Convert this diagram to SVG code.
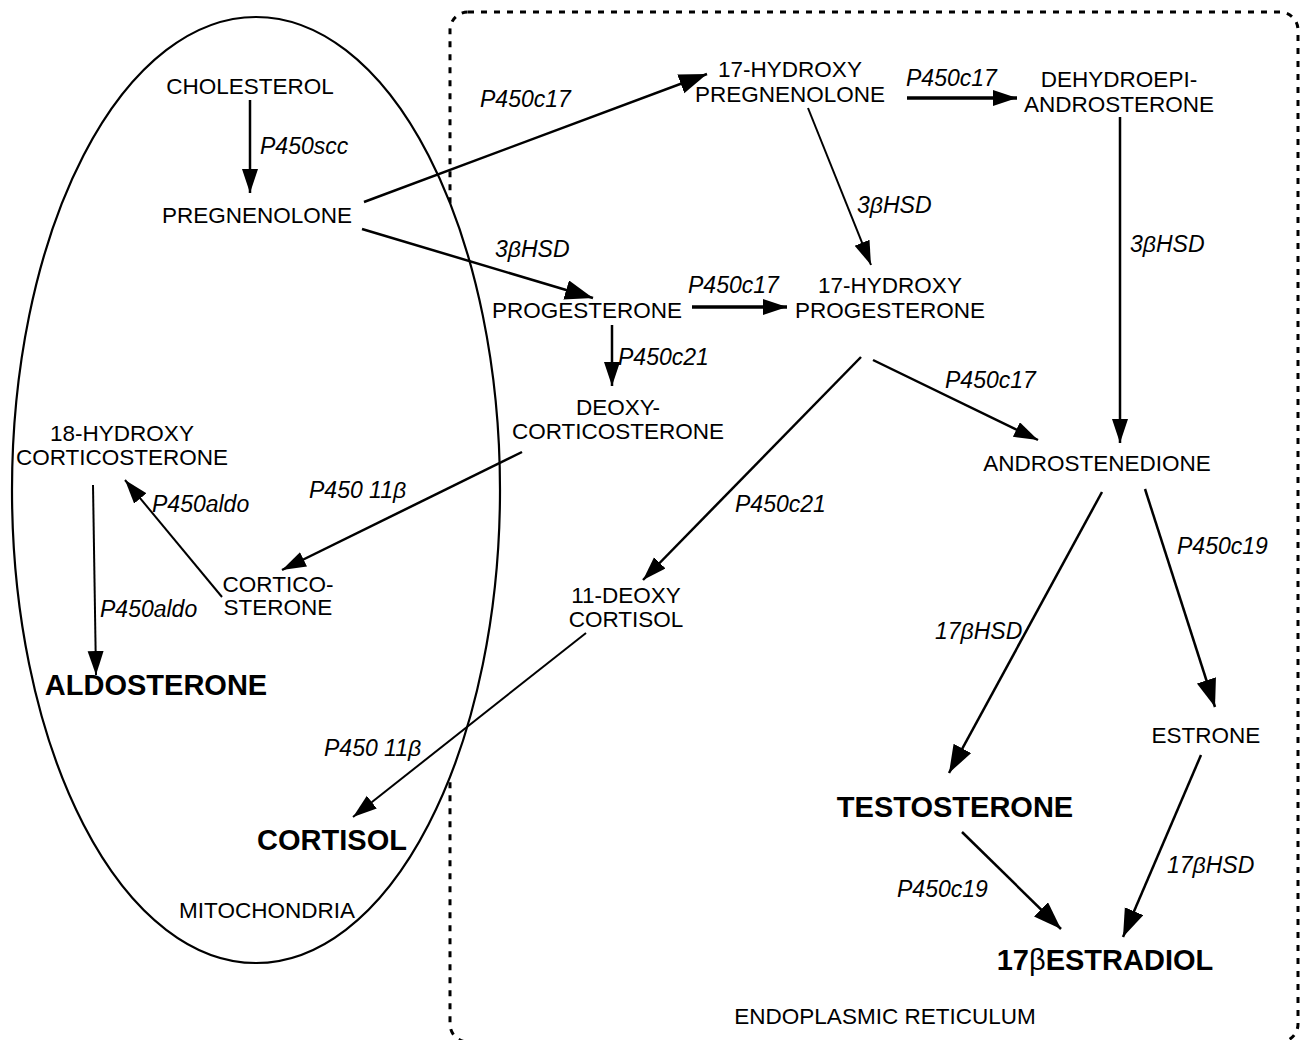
<svg xmlns="http://www.w3.org/2000/svg" width="1306" height="1040" viewBox="0 0 1306 1040">
<style>
text{font-family:"Liberation Sans",Arial,sans-serif;font-size:22.5px;fill:#000}
.n{text-anchor:middle}
.b{font-weight:bold;font-size:29px}
.e{font-style:italic;font-size:23px}
.c{stroke:#000;stroke-width:2.5;fill:none}
.t{stroke-width:2}
.k{stroke-width:3.5}
</style>
<defs>
<marker id="ah" markerUnits="userSpaceOnUse" markerWidth="26" markerHeight="18" refX="24" refY="8" orient="auto"><path d="M0,0 L24,8 L0,16 z" fill="#000"/></marker>
<marker id="ahL" markerUnits="userSpaceOnUse" markerWidth="30" markerHeight="22" refX="28" refY="10" orient="auto"><path d="M0,0 L28,10 L0,20 z" fill="#000"/></marker>
</defs>
<rect id="er" x="450" y="12" width="848" height="1030" rx="18" fill="none" stroke="#000" stroke-width="3" stroke-dasharray="6 7"/>
<ellipse id="mito" cx="256" cy="490" rx="244" ry="473" fill="#fff" stroke="#000" stroke-width="2.2"/>
<g id="connectors">
<line class="c" x1="250" y1="100" x2="250" y2="193" marker-end="url(#ah)"/>
<line class="c" x1="364" y1="202" x2="707" y2="74" marker-end="url(#ahL)"/>
<line class="c" x1="362" y1="229" x2="593" y2="298" marker-end="url(#ahL)"/>
<line class="c k" x1="907" y1="98" x2="1017" y2="98" marker-end="url(#ah)"/>
<line class="c t" x1="808" y1="108" x2="871" y2="265" marker-end="url(#ah)"/>
<line class="c" x1="1120" y1="117" x2="1120" y2="443" marker-end="url(#ah)"/>
<line class="c k" x1="692" y1="307" x2="787" y2="307" marker-end="url(#ah)"/>
<line class="c" x1="612" y1="325" x2="612" y2="386" marker-end="url(#ah)"/>
<line class="c" x1="522" y1="452" x2="282" y2="570" marker-end="url(#ah)"/>
<line class="c" x1="861" y1="357" x2="643" y2="580" marker-end="url(#ah)"/>
<line class="c" x1="873" y1="360" x2="1038" y2="440" marker-end="url(#ah)"/>
<line class="c t" x1="586" y1="633" x2="353" y2="817" marker-end="url(#ah)"/>
<line class="c t" x1="93" y1="485" x2="96" y2="675" marker-end="url(#ah)"/>
<line class="c t" x1="222" y1="597" x2="125" y2="480" marker-end="url(#ah)"/>
<line class="c" x1="1102" y1="492" x2="949" y2="773" marker-end="url(#ahL)"/>
<line class="c" x1="1145" y1="489" x2="1215" y2="707" marker-end="url(#ahL)"/>
<line class="c" x1="962" y1="832" x2="1061" y2="929" marker-end="url(#ahL)"/>
<line class="c" x1="1201" y1="755" x2="1123" y2="937" marker-end="url(#ahL)"/>
</g>
<g id="labels">
<text class="e" x="260" y="154">P450scc</text>
<text class="e" x="480" y="107">P450c17</text>
<text class="e" x="495" y="257">3βHSD</text>
<text class="e" x="906" y="86">P450c17</text>
<text class="e" x="857" y="213">3βHSD</text>
<text class="e" x="1130" y="252">3βHSD</text>
<text class="e" x="688" y="293">P450c17</text>
<text class="e" x="618" y="365">P450c21</text>
<text class="e" x="945" y="388">P450c17</text>
<text class="e" x="309" y="498">P450 11β</text>
<text class="e" x="152" y="512">P450aldo</text>
<text class="e" x="735" y="512">P450c21</text>
<text class="e" x="100" y="617">P450aldo</text>
<text class="e" x="935" y="639">17βHSD</text>
<text class="e" x="1177" y="554">P450c19</text>
<text class="e" x="324" y="756">P450 11β</text>
<text class="e" x="897" y="897">P450c19</text>
<text class="e" x="1167" y="873">17βHSD</text>
</g>
<g id="cholesterol"><text class="n" x="250" y="94">CHOLESTEROL</text></g>
<g id="pregnenolone"><text class="n" x="257" y="223">PREGNENOLONE</text></g>
<g id="hydroxypregnenolone"><text class="n" x="790" y="77">17-HYDROXY</text><text class="n" x="790" y="102">PREGNENOLONE</text></g>
<g id="dhea"><text class="n" x="1119" y="87">DEHYDROEPI-</text><text class="n" x="1119" y="112">ANDROSTERONE</text></g>
<g id="progesterone"><text class="n" x="587" y="318">PROGESTERONE</text></g>
<g id="hydroxyprogesterone"><text class="n" x="890" y="293">17-HYDROXY</text><text class="n" x="890" y="318">PROGESTERONE</text></g>
<g id="deoxycorticosterone"><text class="n" x="618" y="415">DEOXY-</text><text class="n" x="618" y="439">CORTICOSTERONE</text></g>
<g id="hydroxycorticosterone"><text class="n" x="122" y="441">18-HYDROXY</text><text class="n" x="122" y="465">CORTICOSTERONE</text></g>
<g id="corticosterone"><text class="n" x="278" y="592">CORTICO-</text><text class="n" x="278" y="615">STERONE</text></g>
<g id="aldosterone"><text class="n b" x="156" y="695">ALDOSTERONE</text></g>
<g id="deoxycortisol"><text class="n" x="626" y="603">11-DEOXY</text><text class="n" x="626" y="627">CORTISOL</text></g>
<g id="cortisol"><text class="n b" x="332" y="850">CORTISOL</text></g>
<g id="mitochondria-label"><text class="n" x="267" y="918">MITOCHONDRIA</text></g>
<g id="androstenedione"><text class="n" x="1097" y="471">ANDROSTENEDIONE</text></g>
<g id="estrone"><text class="n" x="1206" y="743">ESTRONE</text></g>
<g id="testosterone"><text class="n b" x="955" y="817">TESTOSTERONE</text></g>
<g id="estradiol"><text class="n b" x="1105" y="970">17<tspan font-weight="normal">β</tspan>ESTRADIOL</text></g>
<g id="er-label"><text class="n" x="885" y="1024">ENDOPLASMIC RETICULUM</text></g>
</svg>
